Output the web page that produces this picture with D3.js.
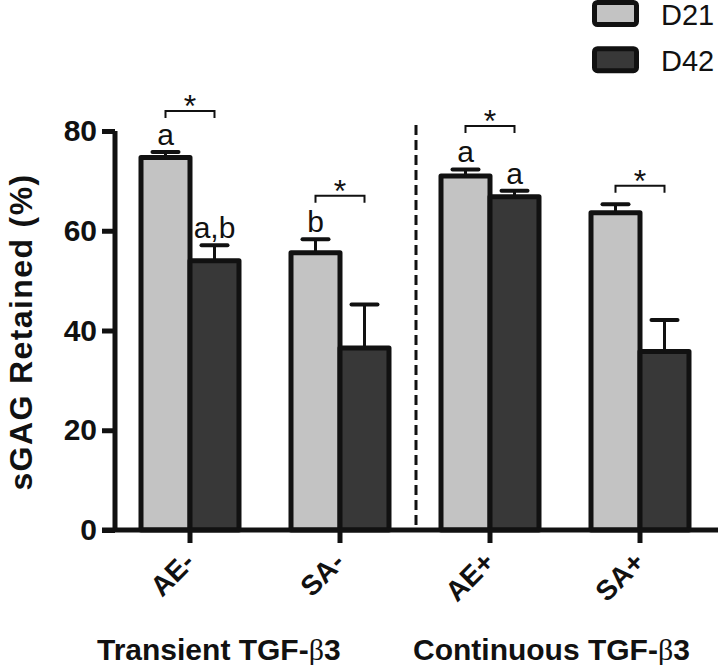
<!DOCTYPE html>
<html>
<head>
<meta charset="utf-8">
<script src="https://cdn.jsdelivr.net/npm/d3@7"></script>
<style>
  html, body { margin: 0; padding: 0; background: #fff; }
  svg { display: block; }
  text { font-family: "Liberation Sans", Arial, sans-serif; fill: #111; }
</style>
</head>
<body>
<svg id="chart" width="720" height="665"></svg>
<script>
// ---- data ----
const categories = ["AE-", "SA-", "AE+", "SA+"];
const seriesNames = ["D21", "D42"];
const d21Values = [74.7, 55.6, 71.0, 63.6];
const d21Errors = [1.1, 2.7, 1.3, 1.7];
const d42Values = [54.0, 36.5, 66.8, 35.8];
const d42Errors = [3.1, 8.7, 1.2, 6.3];
const d21Letters = ["a", "b", "a", ""];
const d42Letters = ["a,b", "", "a", ""];
const sigLevels = [84, 67, 81, 69];
const sigMarks = ["*", "*", "*", "*"];
const yTicks = [0, 20, 40, 60, 80];
const groupLabels = ["Transient TGF-", "Continuous TGF-"];
const groupGreek = ["\u03B2", "\u03B2"];
const groupSuffix = ["3", "3"];
const yTitle = "sGAG Retained (%)";

const colors = { D21: "#c3c3c3", D42: "#383838" };
const ink = "#111";

const svg = d3.select("#chart");

const y = d3.scaleLinear().domain([0, 80]).range([530, 131]);
const x0 = d3.scaleBand().domain(categories).range([115, 715])
  .paddingInner(0.3467).paddingOuter(0.3467 / 2);
const x1 = d3.scaleBand().domain(seriesNames).range([0, x0.bandwidth()]);

const rows = categories.map((c, i) => ({
  cat: c, i,
  bars: [
    { s: "D21", v: d21Values[i], e: d21Errors[i], lab: d21Letters[i] },
    { s: "D42", v: d42Values[i], e: d42Errors[i], lab: d42Letters[i] }
  ]
}));

// dashed separator
svg.append("line")
  .attr("x1", 416).attr("x2", 416)
  .attr("y1", 125).attr("y2", y(0))
  .attr("stroke", ink).attr("stroke-width", 3)
  .attr("stroke-dasharray", "10,5");

const g = svg.selectAll("g.cat").data(rows).enter().append("g")
  .attr("class", "cat")
  .attr("transform", d => `translate(${x0(d.cat)},0)`);

const bar = g.selectAll("g.bar").data(d => d.bars).enter().append("g");

// error bars (upper only)
bar.append("line")
  .attr("x1", d => x1(d.s) + x1.bandwidth() / 2)
  .attr("x2", d => x1(d.s) + x1.bandwidth() / 2)
  .attr("y1", d => y(d.v)).attr("y2", d => y(d.v + d.e))
  .attr("stroke", ink).attr("stroke-width", 3);
bar.append("line")
  .attr("x1", d => x1(d.s) + x1.bandwidth() / 2 - 13)
  .attr("x2", d => x1(d.s) + x1.bandwidth() / 2 + 13)
  .attr("y1", d => y(d.v + d.e)).attr("y2", d => y(d.v + d.e))
  .attr("stroke", ink).attr("stroke-width", 4).attr("stroke-linecap", "round");

bar.append("rect")
  .attr("x", d => x1(d.s))
  .attr("width", x1.bandwidth())
  .attr("y", d => y(d.v))
  .attr("height", d => y(0) - y(d.v))
  .attr("fill", d => colors[d.s])
  .attr("stroke", ink).attr("stroke-width", 5)
  .attr("stroke-linejoin", "round");

// letters
bar.append("text")
  .attr("x", d => x1(d.s) + x1.bandwidth() / 2)
  .attr("y", d => y(d.v + d.e) - 7)
  .attr("text-anchor", "middle")
  .attr("font-size", 30)
  .text(d => d.lab);

// significance brackets
g.append("path")
  .attr("d", d => {
    const xa = x1("D21") + x1.bandwidth() / 2;
    const xb = x1("D42") + x1.bandwidth() / 2;
    const yy = y(sigLevels[d.i]);
    return `M${xa},${yy + 7}V${yy}H${xb}V${yy + 7}`;
  })
  .attr("fill", "none").attr("stroke", ink).attr("stroke-width", 2);
g.append("text")
  .attr("x", x0.bandwidth() / 2)
  .attr("y", d => y(sigLevels[d.i]) + 6)
  .attr("text-anchor", "middle")
  .attr("font-size", 32)
  .text(d => sigMarks[d.i]);

// y axis
const yAxis = svg.append("g").attr("transform", "translate(115,0)")
  .call(d3.axisLeft(y).tickValues(yTicks).tickSize(13).tickPadding(5).tickFormat(d3.format("d")));
yAxis.select(".domain").remove();
yAxis.selectAll(".tick line").attr("stroke", ink).attr("stroke-width", 5);
yAxis.selectAll(".tick text").attr("font-size", 30).attr("font-weight", "bold")
  .attr("fill", ink).style("font-family", "'Liberation Sans', Arial, sans-serif");
svg.append("line").attr("x1", 115).attr("x2", 115).attr("y1", y(80)).attr("y2", y(0))
  .attr("stroke", ink).attr("stroke-width", 5);

// x axis
const xAxis = svg.append("g").attr("transform", `translate(0,${y(0)})`)
  .call(d3.axisBottom(x0).tickSize(13).tickSizeOuter(0));
xAxis.select(".domain").remove();
xAxis.selectAll(".tick line").attr("stroke", ink).attr("stroke-width", 5);
xAxis.selectAll(".tick text")
  .attr("font-size", 28).attr("font-weight", "bold").attr("fill", ink)
  .style("font-family", "'Liberation Sans', Arial, sans-serif")
  .attr("text-anchor", "end")
  .attr("dy", null)
  .attr("y", 0)
  .attr("transform", "translate(6,34) rotate(-45)");
svg.append("line").attr("x1", 102).attr("x2", 718).attr("y1", y(0)).attr("y2", y(0))
  .attr("stroke", ink).attr("stroke-width", 5);

// y title
svg.append("text")
  .attr("transform", "translate(32,332) rotate(-90)")
  .attr("text-anchor", "middle")
  .attr("font-size", 32).attr("font-weight", "bold")
  .attr("letter-spacing", 1.4)
  .text(yTitle);

// group labels
const groupX = [97, 413];
groupLabels.forEach((t, i) => {
  const tx = svg.append("text").attr("x", groupX[i]).attr("y", 660)
    .attr("font-size", 30).attr("font-weight", "bold");
  tx.append("tspan").text(t);
  tx.append("tspan").attr("font-family", "'Liberation Serif', serif")
    .attr("font-weight", "normal").text(groupGreek[i]);
  tx.append("tspan").text(groupSuffix[i]);
});

// legend
const legY = [13.5, 59.7];
seriesNames.forEach((s, i) => {
  svg.append("rect")
    .attr("x", 594.5).attr("y", legY[i] - 11)
    .attr("width", 42).attr("height", 22)
    .attr("rx", 3)
    .attr("fill", colors[s]).attr("stroke", ink).attr("stroke-width", 5);
  svg.append("text")
    .attr("x", 661).attr("y", legY[i] + 11)
    .attr("font-size", 29)
    .text(s);
});
</script>
</body>
</html>
